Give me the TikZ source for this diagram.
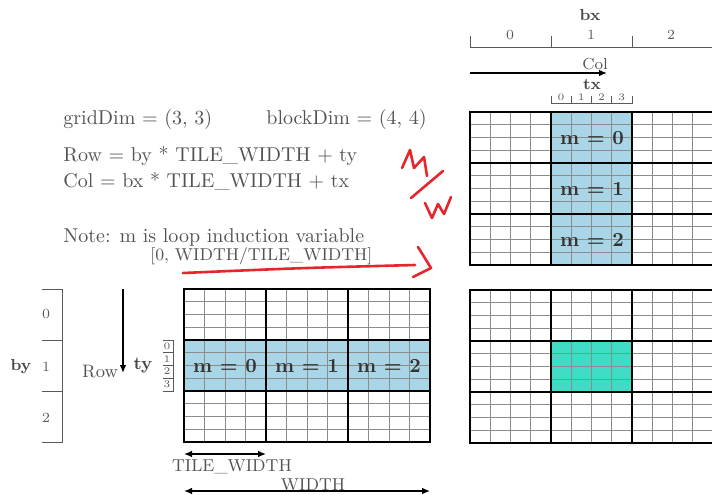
\documentclass[tikz,border=0pt]{standalone}
\usetikzlibrary{arrows.meta}
\definecolor{tileblue}{HTML}{A9D6E6}
\definecolor{tileteal}{HTML}{3EDCC4}
\definecolor{penred}{HTML}{E5262B}

% a 3x3 grid of 4x4 tiles; #1,#2 = top left corner, #3 = tile width
\newcommand{\tilegrid}[3]{%
  \foreach \k in {1,...,11}
    \draw[subline] ({#1+\k*#3/4},#2) -- ({#1+\k*#3/4},{#2+153});
  \foreach \k in {1,...,11}
    \draw[subline] (#1,{#2+\k*12.75}) -- ({#1+3*#3},{#2+\k*12.75});
  \foreach \k in {1,2}
    \draw[blockline] ({#1+\k*#3},#2) -- ({#1+\k*#3},{#2+153})
                     (#1,{#2+\k*51}) -- ({#1+3*#3},{#2+\k*51});
  \draw[blockline] (#1,#2) rectangle ({#1+3*#3},{#2+153});
}
\newcommand{\smallish}{\fontsize{8.6}{10}\selectfont}

\begin{document}
\begin{tikzpicture}[
    x=0.5pt, y=-0.5pt, >={Latex[length=4pt,width=3.4pt]},
    subline/.style={black!45, line width=0.45pt},
    blockline/.style={black, line width=1.1pt},
    ruler/.style={black!65, line width=0.45pt},
    txt/.style={text=black!68, inner sep=0pt},
    idx/.style={text=black!72, inner sep=0pt, font=\bfseries\footnotesize},
    tick/.style={text=black!65, inner sep=0pt, font=\scriptsize},
    tinytick/.style={text=black!65, inner sep=0pt, font=\tiny}]

  \useasboundingbox (0,0) rectangle (712,494);
  \clip (0,0) rectangle (712,494);

  % text on the left
  \node[txt, anchor=base west] (griddim)  at (63,124) {gridDim = (3, 3)};
  \node[txt, anchor=base west] (blockdim) at (266,124) {blockDim = (4, 4)};
  \node[txt, anchor=base west] (rowdef)   at (63,161) {Row = by * TILE\_WIDTH + ty};
  \node[txt, anchor=base west] (coldef)   at (63,187) {Col = bx * TILE\_WIDTH + tx};
  \node[txt, anchor=base west] (note)     at (63,242) {Note: m is loop induction variable};
  \node[txt, anchor=base west, font=\smallish] (range) at (150,260) {[0, WIDTH/TILE\_WIDTH]};

  % fills
  \fill[tileblue] (184,340) rectangle (430,391);
  \fill[tileblue] (551,112) rectangle (632,265);
  \fill[tileteal] (551,341) rectangle (632,392);

  % the three grids
  \tilegrid{184}{289}{82}
  \tilegrid{470}{112}{81}
  \tilegrid{470}{290}{81}

  % m labels
  \node[txt, text=black!80, font=\bfseries] (ml0) at (225,366) {m = 0};
  \node[txt, text=black!80, font=\bfseries] (ml1) at (307,366) {m = 1};
  \node[txt, text=black!80, font=\bfseries] (ml2) at (389,366) {m = 2};
  \node[txt, text=black!80, font=\bfseries] (mt0) at (592,138) {m = 0};
  \node[txt, text=black!80, font=\bfseries] (mt1) at (592,189) {m = 1};
  \node[txt, text=black!80, font=\bfseries] (mt2) at (592,240) {m = 2};

  % bx ruler
  \node[idx] (bx) at (590,15) {bx};
  \draw[ruler] (470,36) -- (470,47) -- (712,47);
  \draw[ruler] (551,36) -- (551,47);
  \draw[ruler] (632,36) -- (632,47);
  \node[tick] (bx0) at (510,35) {0};
  \node[tick] (bx1) at (591,35) {1};
  \node[tick] (bx2) at (671,35) {2};

  % Col arrow and tx ruler
  \coordinate (colfrom) at (470,73);
  \coordinate (colto) at (607,73);
  \draw[->, line width=0.8pt] (colfrom) -- (colto);
  \node[txt, font=\footnotesize] (col) at (595,64) {Col};
  \node[idx] (tx) at (592,84) {tx};
  \draw[ruler] (551,96) -- (551,103) -- (632,103) -- (632,96);
  \foreach \k in {1,2,3}
    \draw[ruler] ({551+\k*20.25},96) -- ({551+\k*20.25},103);
  \foreach \k in {0,...,3}
    \node[tinytick] (tx\k) at ({561+\k*20.25},97) {\k};

  % by ruler
  \node[idx] (by) at (21,367) {by};
  \draw[ruler] (42,289) -- (62,289) -- (62,442) -- (42,442);
  \draw[ruler] (42,340) -- (62,340);
  \draw[ruler] (42,391) -- (62,391);
  \node[tick] (by0) at (46,314) {0};
  \node[tick] (by1) at (46,367) {1};
  \node[tick] (by2) at (46,418) {2};

  % Row arrow and ty ruler
  \coordinate (rowfrom) at (123,289);
  \coordinate (rowto) at (123,373);
  \draw[->, line width=0.8pt] (rowfrom) -- (rowto);
  \node[txt, font=\small] (row) at (100,372) {Row};
  \node[idx, font=\bfseries\small] (ty) at (143,366) {ty};
  \draw[ruler] (163,340) -- (173,340) -- (173,391) -- (163,391);
  \foreach \k in {1,2,3}
    \draw[ruler] (163,{340+\k*12.75}) -- (173,{340+\k*12.75});
  \foreach \k in {0,...,3}
    \node[tinytick] (ty\k) at (167,{346+\k*12.75}) {\k};

  % widths
  \coordinate (tw1) at (184,454);
  \coordinate (tw2) at (266,454);
  \draw[<->, line width=0.7pt] (tw1) -- (tw2);
  \node[txt, font=\smallish] (tilew) at (232,467) {TILE\_WIDTH};
  \coordinate (w1) at (184,491);
  \coordinate (w2) at (430,491);
  \draw[<->, line width=0.7pt] (w1) -- (w2);
  \node[txt, font=\smallish] (width) at (313,485) {WIDTH};

  % red pen marks
  \draw[penred, line width=1.3pt, line cap=round, line join=round]
    (402,168) -- (410,150) -- (414,168) -- (424,157) -- (427,176);
  \draw[penred, line width=1.3pt, line cap=round] (411,198) -- (443,171);
  \draw[penred, line width=1.3pt, line cap=round, line join=round]
    (425,203) -- (432,218) -- (438,204) -- (444,214) -- (451,197);
  \draw[penred, line width=1.3pt, line cap=round]
    (183,273) .. controls (300,268) .. (415,265);
  \draw[penred, line width=1.3pt, line cap=round, line join=round]
    (418,247) -- (431,268) -- (413,277);
\end{tikzpicture}
\end{document}
